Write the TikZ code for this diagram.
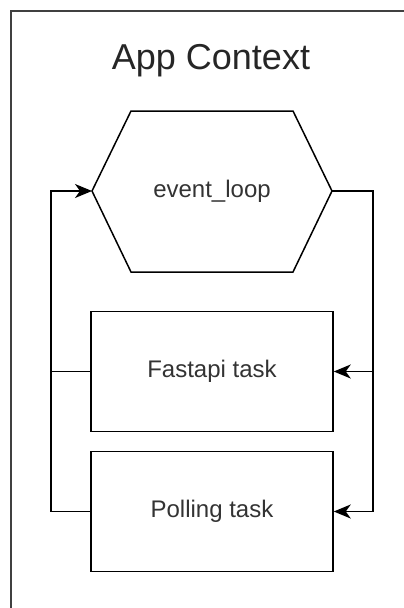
\documentclass[tikz,border=0pt]{standalone}
\usepackage{fontspec}
\setmainfont{Liberation Sans}
\usetikzlibrary{arrows.meta}
\tikzset{
  box/.style={draw=black, line width=1.5pt, minimum width=242pt, minimum height=120pt, inner sep=0pt, text=black!80, font=\fontsize{24}{28}\selectfont},
  conn/.style={draw=black, line width=1.5pt},
  tip/.style={-{Stealth[length=17pt, width=14pt, inset=5pt]}},
  frame/.style={draw=black!75, line width=2pt},
}
\begin{document}
\begin{tikzpicture}[x=1pt, y=-1pt]
\useasboundingbox (0,0) rectangle (404,608);
% outer frame (continues beyond the picture)
\draw[frame] (404,11) -- (11,11) -- (11,608);
\node[text=black!85, font=\fontsize{36}{42}\selectfont] (title) at (211,61) {App Context};
% hexagon
\coordinate (hexL) at (92,191);
\coordinate (hexR) at (332,191);
\draw[conn, line join=miter] (hexL) -- (131,111) -- (293,111) -- (hexR) -- (293,272) -- (131,272) -- cycle;
\node[text=black!80, font=\fontsize{24}{28}\selectfont] (loop) at (212,191) {event\_loop};
% tasks
\node[box] (fast) at (212,371.5) {Fastapi task};
\node[box] (poll) at (212,511.5) {Polling task};
% rails
\coordinate (lx) at (51,191);
\coordinate (rx) at (373,191);
\draw[conn, tip] (poll.west) -| (lx) -- (hexL);
\draw[conn] (fast.west) -- (fast.west -| lx);
\draw[conn, tip] (hexR) -- (rx) |- (poll.east);
\draw[conn, tip] (fast.east -| rx) -- (fast.east);
\end{tikzpicture}
\end{document}
